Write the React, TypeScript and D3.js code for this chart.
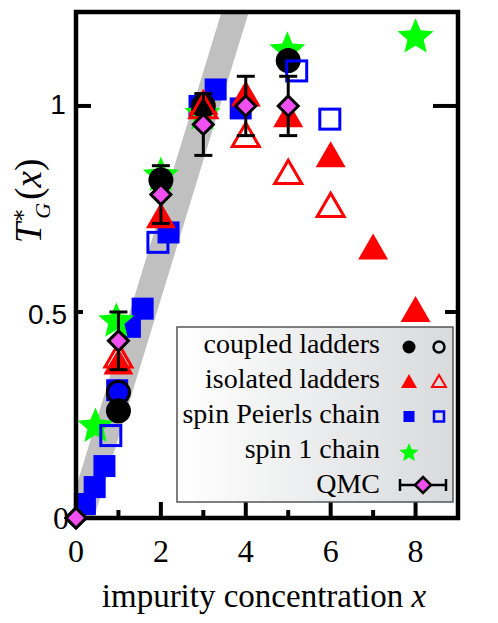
import React from 'react'
import * as d3 from 'd3'

// coupled ladders (black)
const coupledX = [1, 2, 3, 5]
const coupledY = [0.26, 0.82, 1.0, 1.11]
const coupledOpenX = [1]
const coupledOpenY = [0.305]

// isolated ladders (red triangles)
const isolatedX = [1, 2, 3, 4, 5, 6, 7, 8]
const isolatedY = [0.38, 0.735, 1.01, 1.03, 0.98, 0.883, 0.659, 0.507]
const isolatedOpenX = [1, 3, 4, 5, 6]
const isolatedOpenY = [0.395, 1.0, 0.93, 0.84, 0.76]

// spin Peierls chain (blue squares)
const peierlsX = [0.21, 0.44, 0.67, 0.97, 1.27, 1.57, 2.18, 2.91, 3.29, 3.88]
const peierlsY = [0.034, 0.075, 0.126, 0.31, 0.464, 0.508, 0.693, 1.0, 1.04, 0.994]
const peierlsOpenX = [0.82, 1.93, 5.2, 5.98]
const peierlsOpenY = [0.2, 0.669, 1.085, 0.968]

// spin 1 chain (green stars)
const spin1X = [0.46, 0.95, 2.0, 2.98, 4.98, 8.0]
const spin1Y = [0.222, 0.477, 0.831, 0.98, 1.135, 1.167]

// QMC
const qmcX = [0, 1, 2, 3, 4, 5]
const qmcY = [0, 0.43, 0.785, 0.955, 1.0, 1.0]
const qmcErr = [0, 0.07, 0.07, 0.075, 0.072, 0.072]

// gray guide band (two end points)
const bandX = [0.1, 3.75]
const bandY = [0, 1.228]

const xTicksMajor = [0, 2, 4, 6, 8]
const xTicksMinor = [1, 3, 5, 7]
const legendLabels = ['coupled ladders', 'isolated ladders', 'spin Peierls chain', 'spin 1 chain', 'QMC']

const W = 498
const H = 623
const left = 76, right = 458, top = 12, bottom = 518

const x = d3.scaleLinear().domain([0, 9]).range([left, right])
const y = d3.scaleLinear().domain([0, 1.228]).range([bottom, top])

const serif = 'Liberation Serif, DejaVu Serif, serif'
const sans = 'Liberation Sans, DejaVu Sans, sans-serif'

const starPath = (R: number, ratio = 0.45) => {
  const pts: [number, number][] = []
  for (let i = 0; i < 10; i++) {
    const r = i % 2 === 0 ? R : R * ratio
    const a = -Math.PI / 2 + (i * Math.PI) / 5
    pts.push([r * Math.cos(a), r * Math.sin(a)])
  }
  return d3.line()(pts) + 'Z'
}

const triPath = (w: number) => {
  const h = w * 0.866
  return d3.line()([[0, -h / 2], [w / 2, h / 2], [-w / 2, h / 2]]) + 'Z'
}

const diamondPath = (r: number) => d3.line()([[0, -r], [r, 0], [0, r], [-r, 0]]) + 'Z'

const App = () => {
  const zip = (xs: number[], ys: number[]) => xs.map((v, i) => [v, ys[i]])

  // band end points, extended along its own direction so the clip cuts it cleanly
  const bx1 = x(bandX[0]), by1 = y(bandY[0]), bx2 = x(bandX[1]), by2 = y(bandY[1])
  const len = Math.hypot(bx2 - bx1, by2 - by1)
  const ux = (bx2 - bx1) / len, uy = (by2 - by1) / len
  const ext = 40

  const serifStyle = { fontFamily: serif }
  const sansStyle = { fontFamily: sans }

  return (
    <svg width={W} height={H} style={{ position: 'absolute', left: 0, top: 0 }}>
      <defs>
        <clipPath id="plotclip">
          <rect x={left} y={top} width={right - left} height={bottom - top} />
        </clipPath>
        <linearGradient id="legbg" x1="0" x2="1" y1="0" y2="0">
          <stop offset="0" stopColor="#ffffff" />
          <stop offset="1" stopColor="#d9dadc" />
        </linearGradient>
      </defs>
      <rect width={W} height={H} fill="#fff" />

      <g clipPath="url(#plotclip)">
        <line x1={bx1 - ux * ext} y1={by1 - uy * ext} x2={bx2 + ux * ext} y2={by2 + uy * ext}
          stroke="#c0c0c0" strokeWidth={26} />
      </g>

      {/* filled squares */}
      {zip(peierlsX, peierlsY).map(([a, b], i) => (
        <rect key={'ps' + i} x={x(a) - 11} y={y(b) - 11} width={22} height={22} fill="#0000ff" />
      ))}
      {/* stars */}
      {zip(spin1X, spin1Y).map(([a, b], i) => (
        <path key={'st' + i} d={starPath(19)} transform={`translate(${x(a)},${y(b)})`} fill="#00ff00" />
      ))}
      {/* filled triangles */}
      {zip(isolatedX, isolatedY).map(([a, b], i) => (
        <path key={'it' + i} d={triPath(30)} transform={`translate(${x(a)},${y(b)})`} fill="#ff0000" />
      ))}
      {/* open circles */}
      {zip(coupledOpenX, coupledOpenY).map(([a, b], i) => (
        <circle key={'co' + i} cx={x(a)} cy={y(b)} r={11} fill="none" stroke="#000" strokeWidth={3} />
      ))}
      {/* filled circles */}
      {zip(coupledX, coupledY).map(([a, b], i) => (
        <circle key={'cf' + i} cx={x(a)} cy={y(b)} r={12.5} fill="#000" />
      ))}
      {/* open squares */}
      {zip(peierlsOpenX, peierlsOpenY).map(([a, b], i) => (
        <rect key={'po' + i} x={x(a) - 10} y={y(b) - 10} width={20} height={20} fill="none" stroke="#0000ff" strokeWidth={3} />
      ))}
      {/* open triangles */}
      {zip(isolatedOpenX, isolatedOpenY).map(([a, b], i) => (
        <path key={'io' + i} d={triPath(27)} transform={`translate(${x(a)},${y(b)})`} fill="none" stroke="#ff0000" strokeWidth={3} />
      ))}
      {/* QMC */}
      {qmcX.map((a, i) => {
        const cx = x(a)
        const e = qmcErr[i]
        return (
          <g key={'q' + i}>
            {e > 0 && (
              <g stroke="#000" strokeWidth={3}>
                <line x1={cx} x2={cx} y1={y(qmcY[i] + e)} y2={y(qmcY[i] - e)} />
                <line x1={cx - 9} x2={cx + 9} y1={y(qmcY[i] + e)} y2={y(qmcY[i] + e)} />
                <line x1={cx - 9} x2={cx + 9} y1={y(qmcY[i] - e)} y2={y(qmcY[i] - e)} />
              </g>
            )}
            <path d={diamondPath(10)} transform={`translate(${cx},${y(qmcY[i])})`} fill="#f050f0" stroke="#000" strokeWidth={3} />
          </g>
        )
      })}

      {/* axis ticks */}
      <g stroke="#000" strokeWidth={4}>
        {xTicksMajor.filter(t => t > 0).map(t => (
          <line key={'xm' + t} x1={x(t)} x2={x(t)} y1={bottom} y2={bottom - 16} />
        ))}
        {xTicksMinor.map(t => (
          <line key={'xn' + t} x1={x(t)} x2={x(t)} y1={bottom} y2={bottom - 8} />
        ))}
        <line x1={left} x2={left + 15} y1={y(1)} y2={y(1)} />
        <line x1={left} x2={left + 7} y1={y(0.5)} y2={y(0.5)} />
        <line x1={right} x2={right - 25} y1={y(1)} y2={y(1)} />
        <line x1={right} x2={right - 13} y1={y(0.5)} y2={y(0.5)} />
      </g>

      {/* legend */}
      <rect x={177} y={327} width={276} height={175} fill="url(#legbg)" stroke="#555" strokeWidth={1.5} />
      {legendLabels.map((l, i) => (
        <text key={l} x={380} y={353 + i * 35} textAnchor="end" style={serifStyle} fontSize={28} fill="#000">{l}</text>
      ))}
      <circle cx={409} cy={347} r={6.5} fill="#000" />
      <circle cx={439} cy={347} r={5.5} fill="none" stroke="#000" strokeWidth={2.5} />
      <path d={triPath(16)} transform="translate(409,381)" fill="#ff0000" />
      <path d={triPath(14)} transform="translate(439,381)" fill="none" stroke="#ff0000" strokeWidth={2} />
      <rect x={403.5} y={411} width={11} height={11} fill="#0000ff" />
      <rect x={434} y={411.5} width={10} height={10} fill="none" stroke="#0000ff" strokeWidth={2.5} />
      <path d={starPath(10)} transform="translate(409,453)" fill="#00ff00" />
      <g stroke="#000" strokeWidth={2.5}>
        <line x1={400} x2={446} y1={485} y2={485} />
        <line x1={400} x2={400} y1={479} y2={491} />
        <line x1={446} x2={446} y1={479} y2={491} />
      </g>
      <path d={diamondPath(8)} transform="translate(423,485)" fill="#f050f0" stroke="#000" strokeWidth={2.5} />

      {/* frame */}
      <rect x={left} y={top} width={right - left} height={bottom - top} fill="none" stroke="#000" strokeWidth={4.5} />
      {/* zero diamond sits above the frame */}
      <path d={diamondPath(10)} transform={`translate(${x(qmcX[0])},${y(qmcY[0])})`} fill="#f050f0" stroke="#000" strokeWidth={3} />

      {/* tick labels */}
      {xTicksMajor.map(t => (
        <text key={'xl' + t} x={x(t)} y={562} textAnchor="middle" style={serifStyle} fontSize={32}>{t}</text>
      ))}
      <text x={67} y={324} textAnchor="end" style={sansStyle} fontSize={28}>0.5</text>
      <text x={58} y={114} textAnchor="middle" style={sansStyle} fontSize={28}>1</text>
      <text x={69} y={529} textAnchor="end" style={serifStyle} fontSize={32}>0</text>

      {/* axis titles */}
      <text x={264} y={607} textAnchor="middle" style={serifStyle} fontSize={33}>
        impurity concentration <tspan fontStyle="italic">x</tspan>
      </text>
      <text transform="translate(41,201) rotate(-90)" textAnchor="middle" style={serifStyle} fontSize={37}>
        <tspan fontStyle="italic">T</tspan>
        <tspan fontSize={22} dy={-15}>∗</tspan>
        <tspan fontSize={22} fontStyle="italic" dx={-11} dy={24}>G</tspan>
        <tspan dy={-9} dx={3}>(</tspan>
        <tspan fontStyle="italic">x</tspan>
        <tspan>)</tspan>
      </text>
    </svg>
  )
}

export default App
